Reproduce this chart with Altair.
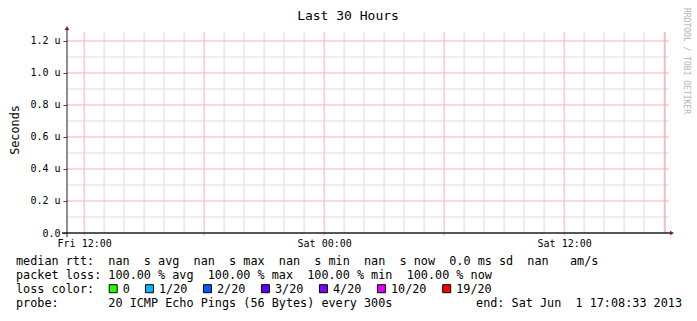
import altair as alt
import pandas as pd

# ---------------- data ----------------
title_text = "Last 30 Hours"
y_title = "Seconds"
watermark = "RRDTOOL / TOBI OETIKER"

time_start = "2013-05-31 11:08:33"
time_end = "2013-06-01 17:08:33"
median_rtt = [float("nan"), float("nan")]   # no rtt values: 100 % loss

x_label_times = ["2013-05-31 12:00", "2013-06-01 00:00", "2013-06-01 12:00"]
x_label_texts = ["Fri 12:00", "Sat 00:00", "Sat 12:00"]

y_max = 1.256
y_grid_values = [0.1, 0.2, 0.3, 0.4, 0.5, 0.6, 0.7, 0.8, 0.9, 1.0, 1.1, 1.2]
y_label_values = [0.0, 0.2, 0.4, 0.6, 0.8, 1.0, 1.2]
y_label_texts = ["0.0", "0.2 u", "0.4 u", "0.6 u", "0.8 u", "1.0 u", "1.2 u"]

rtt_stat_names = ["avg", "max", "min", "now"]
rtt_stat_values = ["nan", "nan", "nan", "nan"]
rtt_sd = "0.0 ms"
rtt_am = "nan"
loss_stat_names = ["avg", "max", "min", "now"]
loss_stat_values = ["100.00", "100.00", "100.00", "100.00"]
loss_labels = ["0", "1/20", "2/20", "3/20", "4/20", "10/20", "19/20"]
loss_colors = ["#26ff00", "#00b8ff", "#0059ff", "#5e00ff", "#7e00ff", "#dd00ff", "#ff0000"]
probe_text = "20 ICMP Echo Pings (56 Bytes) every 300s"
end_text = "end: Sat Jun  1 17:08:33 2013"

# ---------------- layout ----------------
W, H = 600, 201
PADL, PADT = 67, 32
MONO = "DejaVu Sans Mono"
NB = "\u00a0"
RED_GRID = "#f2b4b4"
GREY_GRID = "#dedede"
ARROW = "#801f1f"
AXIS = "#1f1f1f"


def nb(s):
    return s.replace(" ", NB)


def ms(s):
    return int(pd.Timestamp(s).value // 10**6)


t0, t1 = ms(time_start), ms(time_end)
x_scale = alt.Scale(type="utc", domain=[t0, t1], nice=False)
y_scale = alt.Scale(domain=[0, y_max], nice=False, zero=True)

base_df = pd.DataFrame({"t": [t0, t1], "rtt": median_rtt})

# y label expression built from the label arrays
expr = "''"
for v, txt in reversed(list(zip(y_label_values, y_label_texts))):
    expr = f"(abs(datum.value - {v}) < 0.01 ? '{txt}' : {expr})"

xlab_expr = "''"
for v, txt in reversed(list(zip([ms(s) for s in x_label_times], x_label_texts))):
    xlab_expr = f"(abs(+datum.value - {v}) < 1000 ? '{txt}' : {xlab_expr})"

x_axis = alt.Axis(
    title=None, values=[ms(s) for s in x_label_times], grid=False, domain=False,
    ticks=False, labelExpr=xlab_expr, labelOverlap=False, labelFlush=False,
    labelFont=MONO, labelFontSize=10, labelColor="#000000", labelPadding=5,
)
y_axis = alt.Axis(
    title=None, values=y_label_values, grid=False, domain=False,
    tickSize=4, tickColor="#555555", labelExpr=expr, labelOverlap=False,
    labelFont=MONO, labelFontSize=10, labelColor="#000000", labelPadding=3,
)

# grid positions (hourly / 6-hourly verticals, 0.1 u horizontals)
hours = pd.date_range(pd.Timestamp(time_start).ceil("h"), pd.Timestamp(time_end), freq="h")
vgrid_df = pd.DataFrame({"t": [int(h.value // 10**6) for h in hours], "major": [h.hour % 6 == 0 for h in hours]})
hgrid_df = pd.DataFrame({"rtt": y_grid_values, "major": [round(v * 10) % 2 == 0 for v in y_grid_values]})


def hgrid(major, color):
    return alt.Chart(hgrid_df).transform_filter("datum.major" if major else "!datum.major").mark_rule(
        color=color, strokeWidth=1).encode(
        y=alt.Y("rtt:Q", scale=y_scale, axis=y_axis), x=alt.value(0), x2=alt.value(W + 2))


def vgrid(major, color, ext):
    return alt.Chart(vgrid_df).transform_filter("datum.major" if major else "!datum.major").mark_rule(
        color=color, strokeWidth=1).encode(
        x=alt.X("t:T", scale=x_scale, axis=x_axis), y=alt.value(0), y2=alt.value(H + ext))


hgrid_minor = hgrid(False, GREY_GRID)
vgrid_minor = vgrid(False, GREY_GRID, 0)
hgrid_major = hgrid(True, RED_GRID)
vgrid_major = vgrid(True, RED_GRID, 3)

base = alt.Chart(base_df).mark_line(color="#00aa00").encode(
    x=alt.X("t:T", scale=x_scale, axis=x_axis), y=alt.Y("rtt:Q", scale=y_scale, axis=y_axis)
)

one = pd.DataFrame({"k": [0]})

right_rule = alt.Chart(one).mark_rule(color="#ee9a9a", strokeWidth=1).encode(
    x=alt.value(W - 2), y=alt.value(0), y2=alt.value(H)
)
x_axis_line = alt.Chart(one).mark_rule(color=AXIS, strokeWidth=1.5).encode(
    x=alt.value(-5), x2=alt.value(W + 3), y=alt.value(H)
)
y_axis_line = alt.Chart(one).mark_rule(color=AXIS, strokeWidth=1).encode(
    x=alt.value(0), y=alt.value(H + 4), y2=alt.value(-3)
)
y_arrow = alt.Chart(one).mark_point(shape="triangle-up", filled=True, color=ARROW, size=22, opacity=1).encode(
    x=alt.value(0), y=alt.value(-4)
)
x_arrow = alt.Chart(one).mark_point(shape="triangle-right", filled=True, color=ARROW, size=22, opacity=1).encode(
    x=alt.value(W + 5), y=alt.value(H)
)

title = alt.Chart(one).mark_text(font=MONO, fontSize=13, align="center", baseline="alphabetic", color="#000").encode(
    x=alt.value(348 - PADL), y=alt.value(20 - PADT), text=alt.value(nb(title_text))
)
ytitle = alt.Chart(one).mark_text(font=MONO, fontSize=11.8, align="center", baseline="middle", angle=270, color="#000").encode(
    x=alt.value(15 - PADL), y=alt.value(130 - PADT), text=alt.value(y_title)
)
wmark = alt.Chart(one).mark_text(font=MONO, fontSize=8, align="center", baseline="middle", angle=90, color="#b4b4b4").encode(
    x=alt.value(686 - PADL), y=alt.value(61 - PADT), text=alt.value(nb(watermark))
)

# legend rows
row1 = "median rtt:  " + "  ".join(f"{v}  s {n}" for v, n in zip(rtt_stat_values, rtt_stat_names)) \
    + f"  {rtt_sd} sd  {rtt_am}   am/s"
row2 = "packet loss: " + "  ".join(f"{v} % {n}" for v, n in zip(loss_stat_values, loss_stat_names))
row3 = "loss color:"
row4 = "probe:       " + probe_text
rows_df = pd.DataFrame({"text": [nb(r) for r in [row1, row2, row3, row4]], "row": [0, 1, 2, 3]})

rows = alt.Chart(rows_df).mark_text(font=MONO, fontSize=11.8, align="left", baseline="alphabetic", color="#000").transform_calculate(
    py=f"{265 - PADT} + datum.row * 14"
).encode(
    x=alt.value(16 - PADL), y=alt.Y("py:Q", scale=None), text="text:N"
)
end_mark = alt.Chart(one).mark_text(font=MONO, fontSize=11.8, align="right", baseline="alphabetic", color="#000").encode(
    x=alt.value(682 - PADL), y=alt.value(307 - PADT), text=alt.value(nb(end_text))
)

# loss color swatches
slot = []
acc = 0
for lab in loss_labels:
    slot.append(acc)
    acc += len(lab) + 4
loss_df = pd.DataFrame({"label": loss_labels, "color": loss_colors, "slot": slot})
CW = 7.25
loss_base = alt.Chart(loss_df).transform_calculate(
    tx=f"{122.7 - PADL} + datum.slot * {CW}",
    bx=f"{122.7 - PADL - 9.5} + datum.slot * {CW}",
)
loss_boxes = loss_base.mark_square(size=64, opacity=1, stroke="#000", strokeWidth=1).encode(
    x=alt.X("bx:Q", scale=None), y=alt.value(288.7 - PADT), fill=alt.Fill("color:N", scale=None)
)
loss_text = loss_base.mark_text(font=MONO, fontSize=11.8, align="left", baseline="alphabetic", color="#000").encode(
    x=alt.X("tx:Q", scale=None), y=alt.value(293 - PADT), text="label:N"
)

chart = alt.layer(
    hgrid_minor, vgrid_minor, hgrid_major, vgrid_major, base, right_rule,
    x_axis_line, y_axis_line, y_arrow, x_arrow,
    title, ytitle, wmark, rows, end_mark, loss_boxes, loss_text,
).properties(
    width=W, height=H,
    autosize=alt.AutoSizeParams(type="none"),
    padding={"left": PADL, "top": PADT, "right": 697 - PADL - W, "bottom": 321 - PADT - H},
    background="#ffffff",
).configure_view(strokeOpacity=0)

chart.save("out.html", embed_options={"renderer": "svg", "actions": False})
